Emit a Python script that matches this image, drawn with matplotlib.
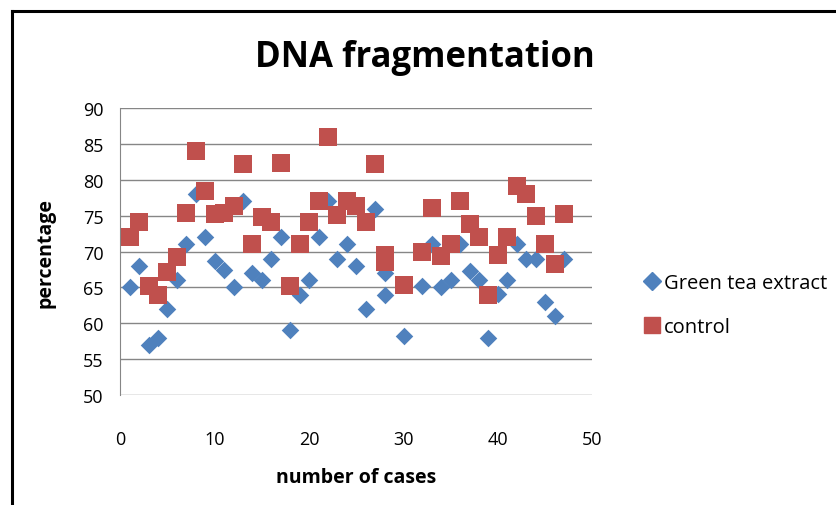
import matplotlib
matplotlib.use("Agg")
import matplotlib.pyplot as plt
from matplotlib.lines import Line2D

plt.rcParams['font.family'] = ['Open Sans', 'DejaVu Sans']

case_x = [1, 2, 3, 4, 5, 6, 7, 8, 9, 10, 11, 12, 13, 14, 15, 16, 17, 18, 19, 20,
          21, 22, 23, 24, 25, 26, 27, 28, 28, 30, 32, 33, 34, 35, 36, 37, 38, 39,
          40, 41, 42, 43, 44, 45, 46, 47]
green_tea = [65, 68, 57, 58, 62, 66, 71, 78, 72, 68.7, 67.5, 65, 77, 67, 66, 69,
             72, 59, 64, 66, 72, 77, 69, 71, 68, 62, 76, 67, 64, 58.2, 65.2, 71,
             65, 66, 71, 67.3, 66, 58, 64.1, 66, 71, 69, 69, 63, 61, 69]
control = [72, 74.2, 65.2, 64, 67.1, 69.2, 75.4, 84.1, 78.5, 75.2, 75.4, 76.3,
           82.2, 71.1, 74.9, 74.2, 82.4, 65.2, 71, 74.1, 77, 86, 75.1, 77.1, 76.3,
           74.1, 82.2, 69.6, 68.6, 65.4, 70, 76.1, 69.4, 71, 77, 73.9, 72.1, 64,
           69.6, 72.1, 79.1, 78.1, 75, 71, 68.3, 75.3]
x_ticks = [0, 10, 20, 30, 40, 50]
y_ticks = [50, 55, 60, 65, 70, 75, 80, 85, 90]

blue = '#4F81BD'
red = '#C0504D'

fig = plt.figure(figsize=(8.37, 5.06), dpi=100)
ax = fig.add_axes([0.1437, 0.2174, 0.7077 - 0.1437, 0.784 - 0.2174])

ax.scatter(case_x, green_tea, marker='D', s=80, color=blue, linewidths=0, zorder=3,
           label='Green tea extract')
ax.scatter(case_x, control, marker='s', s=150, color=red, linewidths=0, zorder=3,
           label='control')

ax.set_xlim(0, 50)
ax.set_ylim(50, 90)
ax.set_xticks(x_ticks)
ax.set_yticks(y_ticks)
ax.tick_params(axis='both', length=0, labelsize=13)
ax.tick_params(axis='x', pad=25)
ax.tick_params(axis='y', pad=12)
ax.yaxis.grid(True, color='#868686', linewidth=1)
ax.set_axisbelow(True)
for s in ['top', 'right', 'bottom']:
    ax.spines[s].set_visible(False)
ax.spines['left'].set_color('#868686')

ax.set_xlabel('number of cases', fontsize=14, fontweight='bold', labelpad=14)
ax.set_ylabel('percentage', fontsize=14, fontweight='bold', labelpad=20)

fig.text(0.508, 0.885, 'DNA fragmentation', ha='center', va='center',
         fontsize=25, fontweight='bold')

handles = [Line2D([], [], marker='D', color=blue, linestyle='none', markersize=9),
           Line2D([], [], marker='s', color=red, linestyle='none', markersize=12)]
fig.legend(handles, ['Green tea extract', 'control'], loc='center left',
           bbox_to_anchor=(0.745, 0.395), frameon=False, fontsize=14.5,
           handletextpad=0.1, labelspacing=1.2, handlelength=1.0)

# outer frame lines (left and top)
fig.add_artist(Line2D([12/837, 12/837], [0, 1 - 12/506], color='black', linewidth=2.2,
                      transform=fig.transFigure))
fig.add_artist(Line2D([12/837, 1], [1 - 12/506, 1 - 12/506], color='black', linewidth=2.2,
                      transform=fig.transFigure))

fig.savefig('out.png', dpi=100)
